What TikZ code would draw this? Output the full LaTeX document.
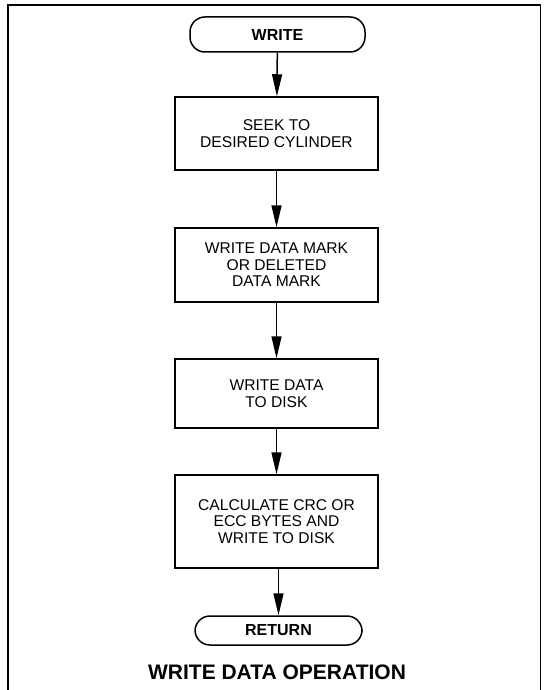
\documentclass[tikz,border=0pt]{standalone}
\usepackage{fontspec}
\setmainfont{Liberation Sans}
\usetikzlibrary{arrows.meta}
\begin{document}
\begin{tikzpicture}[x=1pt,y=-1pt,
  procbox/.style={draw,line width=1.5pt,minimum width=203pt,align=center,
    font=\fontsize{15.6}{16.5}\selectfont,inner sep=0pt},
  term/.style={draw,line width=1.5pt,rounded corners=15pt,align=center,
    font=\bfseries\fontsize{16}{18}\selectfont,inner sep=0pt},
  flow/.style={line width=1.5pt,-{Triangle[length=22pt,width=10pt]}}]
\useasboundingbox (0,0) rectangle (543,690);
\draw[line width=1.8pt] (8,700) -- (8,5) -- (540.5,5) -- (540.5,700);
\node[term,minimum width=175pt,minimum height=35pt] (start) at (277.5,34.5) {WRITE};
\node[procbox,minimum height=73pt] (b1) at (276.5,133.5) {SEEK TO\\DESIRED CYLINDER};
\node[procbox,minimum height=74pt] (b2) at (276.5,265) {WRITE DATA MARK\\OR DELETED\\DATA MARK};
\node[procbox,minimum height=69pt] (b3) at (276.5,393.5) {WRITE DATA\\TO DISK};
\node[procbox,minimum height=93pt] (b4) at (276.5,521.5) {CALCULATE CRC OR\\ECC BYTES AND\\WRITE TO DISK};
\node[term,minimum width=167pt,minimum height=29pt] (ret) at (278.5,630.5) {RETURN};
\node[font=\bfseries\fontsize{21}{23}\selectfont] (title) at (277,672) {WRITE DATA OPERATION};
\draw[flow] (start) -- (b1);
\draw[flow] (b1) -- (b2);
\draw[flow] (b2) -- (b3);
\draw[flow] (b3) -- (b4);
\draw[flow] (b4.south -| ret.north) -- (ret);
\end{tikzpicture}
\end{document}
